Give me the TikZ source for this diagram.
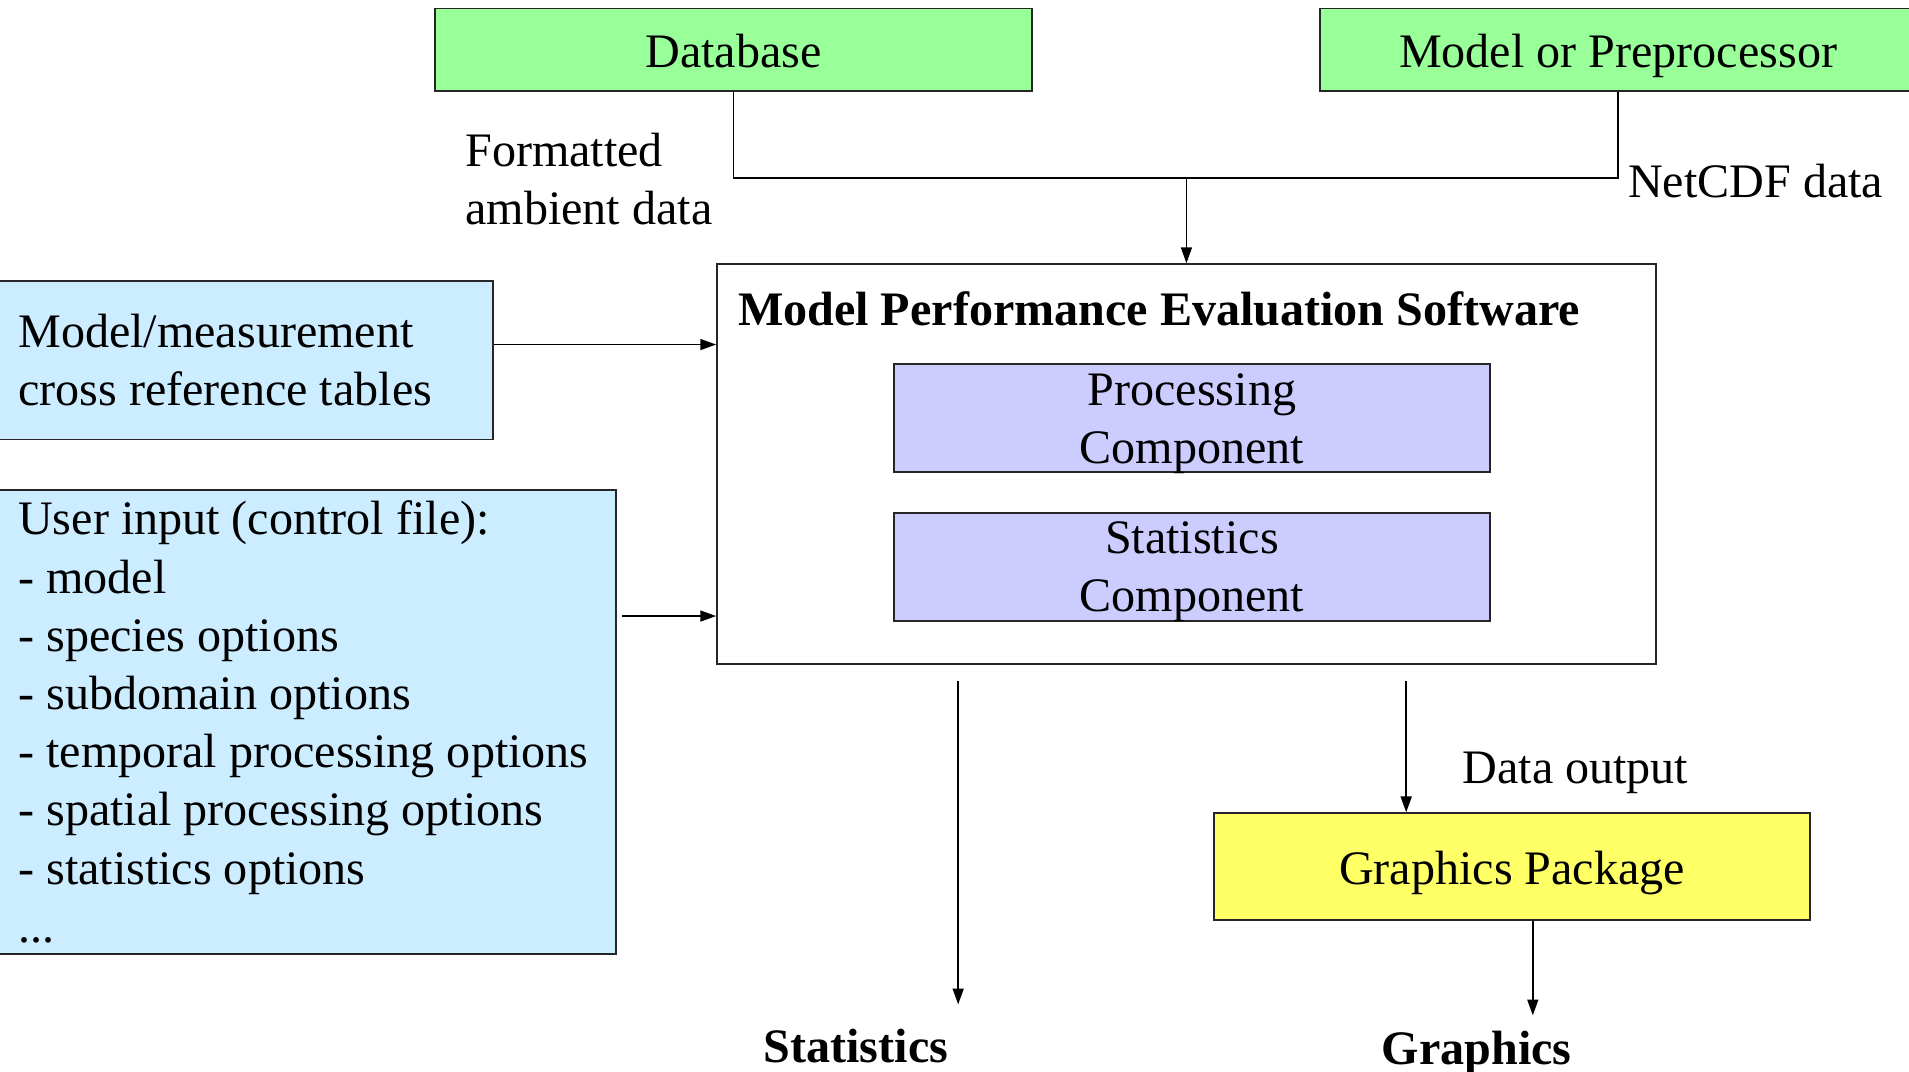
\documentclass[tikz,border=0pt]{standalone}
\usepackage{fontspec}
\setmainfont{Liberation Serif}
\usetikzlibrary{arrows.meta}
\definecolor{srcgreen}{HTML}{99FF99}
\definecolor{inblue}{HTML}{CCECFF}
\definecolor{complav}{HTML}{CCCCFF}
\definecolor{pkgyellow}{HTML}{FFFF66}
% natural interword spacing inside fixed-width text blocks
\newcommand\natspace{\spaceskip=0pt\xspaceskip=0pt\relax}
\begin{document}
\begin{tikzpicture}[x=1pt,y=-1pt,
  box/.style={draw=black!85, line width=1.6pt, inner sep=0pt,
    font=\fontsize{39.5}{47.8}\selectfont},
  oneline/.style={text height=29pt, text depth=0pt},
  twoline/.style={text depth=-8pt},
  conn/.style={line width=1.4pt},
  arr/.style={conn, -{Triangle[length=13pt,width=9pt]}},
  lbl/.style={inner sep=0pt, font=\fontsize{39.5}{47.8}\selectfont}]

\useasboundingbox (0,0) rectangle (1568,880);
\clip (0,0) rectangle (1568,880);

% data sources
\node[box, oneline, fill=srcgreen, minimum width=491pt, minimum height=68pt] (db) at (602.5,41) {Database};
\node[box, oneline, fill=srcgreen, minimum width=490pt, minimum height=68pt] (mp) at (1329,41) {Model or Preprocessor};

% main software block
\node[draw=black!85, line width=1.6pt, minimum width=771pt, minimum height=328pt, inner sep=0pt] (mpes) at (974.5,381) {};
\node[lbl, anchor=west] (title) at (606,254) {\bfseries Model Performance Evaluation Software};
\node[box, twoline, fill=complav, minimum width=490pt, minimum height=89pt, align=center] (proc) at (979,343.5) {Processing\\Component};
\node[box, twoline, fill=complav, minimum width=490pt, minimum height=89pt, align=center] (stat) at (979,465.5) {Statistics\\Component};

% inputs
\node[box, fill=inblue, minimum width=407pt, minimum height=130pt, text width=373pt, inner xsep=17pt, align=left] (xref) at (201.5,296) {\natspace Model/measurement\\cross reference tables};
\node[box, fill=inblue, minimum width=508pt, minimum height=381pt, text width=474pt, inner xsep=17pt, align=left] (user) at (252,593) {\natspace User input (control file):\\- model\\- species options\\- subdomain options\\- temporal processing options\\- spatial processing options\\- statistics options\\...};

% graphics
\node[box, oneline, fill=pkgyellow, minimum width=490pt, minimum height=88pt] (gp) at (1242,712) {Graphics Package};

% labels
\node[lbl, anchor=west, align=left] (fmt) at (382,147) {Formatted\\ambient data};
\node[lbl, anchor=west] (netcdf) at (1337,149) {NetCDF data};
\node[lbl, oneline] (dout) at (1294,629) {Data output};
\node[lbl, oneline] (statout) at (703,858) {\bfseries Statistics};
\node[lbl, oneline] (grout) at (1213,860) {\bfseries Graphics};

% connectors
\coordinate (join) at (974.5,146);
\coordinate (yx) at (0,283);
\coordinate (yu) at (0,506);
\coordinate (sa) at (787,559);
\coordinate (sb) at (787,825);
\coordinate (da) at (1155,559);
\coordinate (gb) at (1259,834);

\draw[conn] (db.south) |- (join) -| (mp.south);
\draw[arr] (join) -- (mpes.north);
\draw[arr] (xref.east |- yx) -- (mpes.west |- yx);
\draw[arr, shorten <=4pt] (user.east |- yu) -- (mpes.west |- yu);
\draw[arr] (sa) -- (sb);
\draw[arr] (da) -- (gp.north -| da);
\draw[arr] (gp.south -| gb) -- (gb);
\end{tikzpicture}
\end{document}
